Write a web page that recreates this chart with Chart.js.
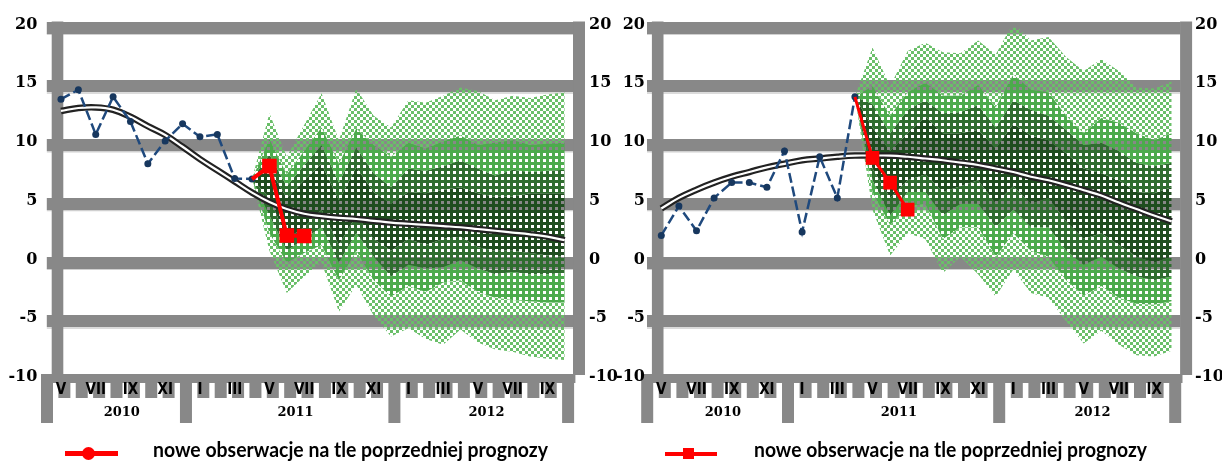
<!DOCTYPE html>
<html lang="pl">
<head>
<meta charset="UTF-8">
<title>Inflacja - nowe obserwacje na tle poprzedniej prognozy</title>
<script src="https://cdn.jsdelivr.net/npm/chart.js@4.4.1/dist/chart.umd.min.js"></script>
<style>
    body { margin: 0; background: #fff; }
    .wrap { position: relative; width: 1222px; height: 462px; overflow: hidden; }
    canvas { position: absolute; top: 0; }
    #leftChart { left: 0; }
    #rightChart { left: 590px; }
    .mark { position: absolute; background: #ff0000; }
    .lt {
        position: absolute; font-family: Lato, sans-serif; font-weight: 700;
        font-size: 21px; line-height: 21px; white-space: nowrap;
        transform-origin: 0 0; color: #000;
    }
</style>
</head>
<body>
<div class="wrap">
    <canvas id="leftChart" width="625" height="462"></canvas>
    <canvas id="rightChart" width="632" height="462"></canvas>

    <div class="mark" style="left:65px;top:451px;width:53px;height:5px"></div>
    <div class="mark" style="left:82px;top:447px;width:13px;height:13px;border-radius:50%"></div>
    <span class="lt" data-w="395" style="left:153px;top:438px">nowe obserwacje na tle poprzedniej prognozy</span>

    <div class="mark" style="left:665px;top:452px;width:52px;height:4px"></div>
    <div class="mark" style="left:683px;top:448px;width:11px;height:11px"></div>
    <span class="lt" data-w="393" style="left:754px;top:438px">nowe obserwacje na tle poprzedniej prognozy</span>
</div>

<script>
// miesiące V 2010 - X 2012
const months = ['V','VI','VII','VIII','IX','X','XI','XII','I','II','III','IV',
                'V','VI','VII','VIII','IX','X','XI','XII','I','II','III','IV',
                'V','VI','VII','VIII','IX','X'];
const years = ['2010', '2011', '2012'];
const yearBreaks = [0, 8, 20, 30];
const fanStart = 11;   // IV 2011

// lewy wykres
const leftObserved = [13.9, 14.7, 10.9, 14.1, 12.0, 8.4, 10.35, 11.8, 10.7, 10.9, 7.15, 7.1];
const leftTrend = [12.9, 13.15, 13.2, 13.0, 12.4, 11.6, 10.85, 9.85, 8.8, 7.85, 6.9, 5.95, 5.15, 4.55, 4.15,
                   3.95, 3.8, 3.7, 3.55, 3.4, 3.3, 3.2, 3.1, 3.0, 2.85, 2.7, 2.55, 2.4, 2.2, 1.9];
const leftNew = [7.1, 8.2, 2.3, 2.25];
const leftAu = [7.1, 12.7, 9.0, 11.7, 14.4, 10.4, 14.8, 12.5, 11.5, 13.8, 13.6, 14.2, 14.9, 14.6, 13.8, 14.2, 14.0, 14.3, 14.5];
const leftBu = [7.1, 10.5, 7.5, 9.5, 11.5, 8.4, 11.4, 10.0, 9.0, 10.2, 9.7, 10.3, 10.8, 10.0, 10.2, 10.4, 10.0, 10.1, 10.2];
const leftCu = [7.1, 9.2, 6.5, 8.3, 10.0, 6.8, 9.8, 7.6, 6.4, 8.0, 7.8, 8.2, 8.7, 8.0, 7.4, 7.9, 7.7, 7.8, 7.9];
const leftDu = [7.1, 8.0, 5.5, 7.0, 8.4, 5.3, 8.1, 6.0, 5.0, 6.0, 5.9, 6.2, 6.4, 5.9, 5.6, 5.6, 5.9, 5.9, 5.9];
const leftDl = [7.1, 5.5, 2.0, 3.0, 4.5, 1.5, 4.0, 2.0, 1.0, 2.0, 1.5, 2.0, 2.2, 1.3, 1.0, 1.0, 0.8, 0.6, 0.5];
const leftCl = [7.1, 4.0, 1.0, 2.0, 3.0, 0.0, 2.5, 0.5, -1.2, -0.2, -0.5, -0.4, 0.2, -0.5, -1.0, -0.8, -1.0, -1.0, -0.9];
const leftBl = [7.1, 2.5, 0.0, 0.8, 1.5, -1.5, 1.0, -1.5, -2.9, -2.0, -2.5, -1.7, -1.5, -2.5, -3.0, -3.2, -3.3, -3.4, -3.4];
const leftAl = [7.1, 1.0, -2.6, -1.2, 0.0, -4.2, -1.9, -4.5, -6.3, -5.6, -6.5, -7.0, -5.7, -6.8, -7.4, -7.6, -8.0, -8.2, -8.3];

// prawy wykres
const rightObserved = [2.3, 4.8, 2.7, 5.5, 6.8, 6.8, 6.4, 9.5, 2.6, 9.0, 5.5, 14.1];
const rightTrend = [4.6, 5.5, 6.2, 6.8, 7.3, 7.7, 8.1, 8.4, 8.7, 8.85, 9.0, 9.1, 9.1, 9.1, 9.0,
                    8.85, 8.7, 8.5, 8.3, 8.0, 7.7, 7.3, 7.0, 6.6, 6.15, 5.7, 5.1, 4.55, 4.0, 3.5];
const rightNew = [14.1, 8.9, 6.8, 4.5];
const rightAu = [14.1, 18.3, 15.0, 18.0, 18.7, 17.9, 17.8, 18.9, 17.7, 20.4, 18.9, 19.2, 17.5, 16.3, 17.3, 16.3, 14.9, 14.8, 15.4];
const rightBu = [14.1, 15.0, 12.5, 14.5, 15.3, 14.2, 14.2, 15.1, 13.2, 16.0, 14.7, 14.5, 12.5, 11.0, 12.3, 11.9, 11.0, 10.4, 11.0];
const rightCu = [14.1, 13.5, 11.0, 13.0, 13.8, 12.7, 12.8, 13.4, 11.5, 13.8, 13.0, 12.5, 11.3, 10.0, 10.2, 9.5, 8.5, 8.2, 8.5];
const rightDu = [14.1, 11.5, 9.5, 11.0, 12.4, 11.0, 11.0, 11.3, 9.7, 11.8, 10.8, 10.4, 9.3, 8.0, 7.6, 7.0, 6.0, 5.9, 6.4];
const rightDl = [14.1, 8.0, 5.5, 7.0, 7.5, 6.0, 6.5, 7.0, 5.0, 6.5, 5.0, 5.5, 3.5, 2.0, 2.5, 1.5, 0.5, 0.0, 0.5];
const rightCl = [14.1, 7.0, 4.0, 6.0, 6.0, 4.0, 5.0, 5.0, 3.0, 4.5, 3.0, 3.0, 1.0, -0.2, 0.5, -0.5, -1.2, -1.5, -1.2];
const rightBl = [14.1, 6.0, 3.2, 4.8, 5.0, 2.0, 3.0, 3.0, 0.5, 2.5, 1.0, 0.5, -1.5, -2.8, -2.0, -3.0, -3.5, -3.6, -3.3];
const rightAl = [14.1, 4.5, 0.6, 2.5, 2.0, -0.9, 0.5, -1.0, -2.9, -0.6, -2.6, -3.0, -5.0, -6.9, -5.8, -7.0, -7.9, -8.0, -7.5];

const GRAY = '#888888';
const serif = "'DejaVu Serif', serif";
const narrow = "'Liberation Sans Narrow', 'DejaVu Sans Condensed', 'Liberation Sans', sans-serif";

const pad = (arr, start) => Array(start).fill(null).concat(arr);

// wzory wypełnienia wachlarza
function pattern(color, checker) {
    const c = document.createElement('canvas');
    c.width = 6; c.height = 6;
    const g = c.getContext('2d');
    g.fillStyle = color;
    if (checker) {
        g.fillRect(0, 0, 3, 3);
        g.fillRect(3, 3, 3, 3);
    } else {
        g.fillRect(0, 0, 6, 6);
        g.clearRect(3, 3, 3, 3);
    }
    return g.createPattern(c, 'repeat');
}
const pLight = pattern('#6abf69', true);
const pMid = pattern('#4cab4c', false);
const pDark = pattern('#2f6d2f', false);
const pCore = pattern('#1f4d1f', false);

// ramka, oś X z ząbkami, lata
const framePlugin = {
    id: 'frame',
    beforeDraw(chart) {
        const { ctx, chartArea: a, scales } = chart;
        const L = a.left, R = a.right, T = a.top, B = a.bottom;
        const step = (R - L) / months.length;
        ctx.save();
        ctx.fillStyle = '#d0d0d0';
        [-5, 0, 5, 10, 15, 20].forEach(v => {
            const y = scales.y.getPixelForValue(v);
            ctx.fillRect(L - 5.5, y + 6, R - L + 5.5, 1.5);
        });
        ctx.fillStyle = GRAY;
        ctx.fillRect(L - 0.6, T - 6, 11.6, B - T + 1);
        ctx.fillRect(R - 0.4, T - 6, 12, B - T + 1);
        ctx.fillRect(L - 11.3, B - 6, R - L + 13.3, 9);
        for (let k = 0; k <= months.length; k++) {
            const long = yearBreaks.includes(k);
            ctx.fillRect(L + k * step - 11.3, B + 3, 12, long ? 40 : 15);
        }
        ctx.fillStyle = '#000';
        ctx.font = 'bold 13px ' + serif;
        ctx.textAlign = 'center';
        ctx.textBaseline = 'middle';
        years.forEach((yr, i) => {
            const x = L + (yearBreaks[i] + yearBreaks[i + 1]) / 2 * step;
            ctx.fillText(yr, x, B + 33);
        });
        ctx.restore();
    }
};

function makeChart(id, d, geo) {
    const bounds = [d.au, d.bu, d.cu, d.du, d.dl, d.cl, d.bl, d.al];
    const fills = [pLight, pMid, pDark, pCore, pDark, pMid, pLight, null];
    const fanSets = bounds.map((arr, i) => ({
        data: pad(arr, fanStart),
        borderWidth: 0,
        pointRadius: 0,
        tension: 0,
        fill: i < 7 ? '+1' : false,
        backgroundColor: fills[i] || 'rgba(0,0,0,0)',
        order: 10
    }));

    const tickFont = { family: serif, size: 16, weight: 'bold' };

    return new Chart(document.getElementById(id), {
        type: 'line',
        data: {
            labels: months,
            datasets: [
                {
                    data: pad(d.fresh, fanStart),
                    borderColor: '#ff0000', backgroundColor: '#ff0000',
                    borderWidth: geo.redWidth, tension: 0,
                    pointStyle: 'rect',
                    pointRadius: c => c.dataIndex === fanStart ? 0 : 7.5,
                    order: 0
                },
                {
                    data: d.observed,
                    borderColor: '#1f497d', backgroundColor: '#17375e',
                    borderWidth: 2.5, borderDash: [10, 4], tension: 0,
                    pointRadius: 3.5, pointBorderWidth: 0,
                    order: 1
                },
                {
                    data: d.trend,
                    borderColor: '#ffffff', borderWidth: 2.2,
                    pointRadius: 0, tension: 0.4,
                    order: 2
                },
                {
                    data: d.trend,
                    borderColor: '#222222', borderWidth: 6.5,
                    pointRadius: 0, tension: 0.4,
                    order: 3
                },
                ...fanSets
            ]
        },
        options: {
            responsive: false,
            animation: false,
            layout: { padding: { top: 27.5, left: 0, right: 0, bottom: 0 } },
            plugins: { legend: { display: false }, tooltip: { enabled: false } },
            scales: {
                x: {
                    offset: true,
                    grid: { display: false, drawTicks: false },
                    border: { display: false },
                    ticks: {
                        autoSkip: false, maxRotation: 0, padding: 1, color: '#000',
                        font: { family: narrow, size: 15, weight: 'bold' },
                        callback: (v, i) => i % 2 === 0 ? months[i] : ''
                    },
                    afterFit: s => { s.height = 82; }
                },
                y: {
                    position: 'left', min: -10, max: 20,
                    ticks: { stepSize: 5, padding: geo.lpad, labelOffset: -3, color: '#000', font: tickFont },
                    grid: {
                        color: c => c.tick && c.tick.value === -10 ? 'rgba(0,0,0,0)' : GRAY,
                        lineWidth: 12, tickLength: 5.5, drawTicks: true
                    },
                    border: { display: false },
                    afterFit: s => { s.width = geo.lw; }
                },
                y2: {
                    position: 'right', min: -10, max: 20,
                    ticks: { stepSize: 5, padding: geo.rpad, labelOffset: -3, color: '#000', font: tickFont },
                    grid: { display: false, drawTicks: false },
                    border: { display: false },
                    afterFit: s => { s.width = geo.rw; }
                }
            }
        },
        plugins: [framePlugin]
    });
}

makeChart('leftChart', {
    observed: leftObserved, trend: leftTrend, fresh: leftNew,
    au: leftAu, bu: leftBu, cu: leftCu, du: leftDu, dl: leftDl, cl: leftCl, bl: leftBl, al: leftAl
}, { lw: 52.3, rw: 51.6, lpad: 9.5, rpad: 15.6, redWidth: 4 });

makeChart('rightChart', {
    observed: rightObserved, trend: rightTrend, fresh: rightNew,
    au: rightAu, bu: rightBu, cu: rightCu, du: rightDu, dl: rightDl, cl: rightCl, bl: rightBl, al: rightAl
}, { lw: 62.5, rw: 41.5, lpad: 2, rpad: 14.5, redWidth: 3 });

// dopasowanie szerokości tekstu legendy
document.querySelectorAll('.lt').forEach(el => {
    const w = el.getBoundingClientRect().width;
    el.style.transform = 'scaleX(' + (+el.dataset.w / w) + ')';
});
</script>
</body>
</html>
